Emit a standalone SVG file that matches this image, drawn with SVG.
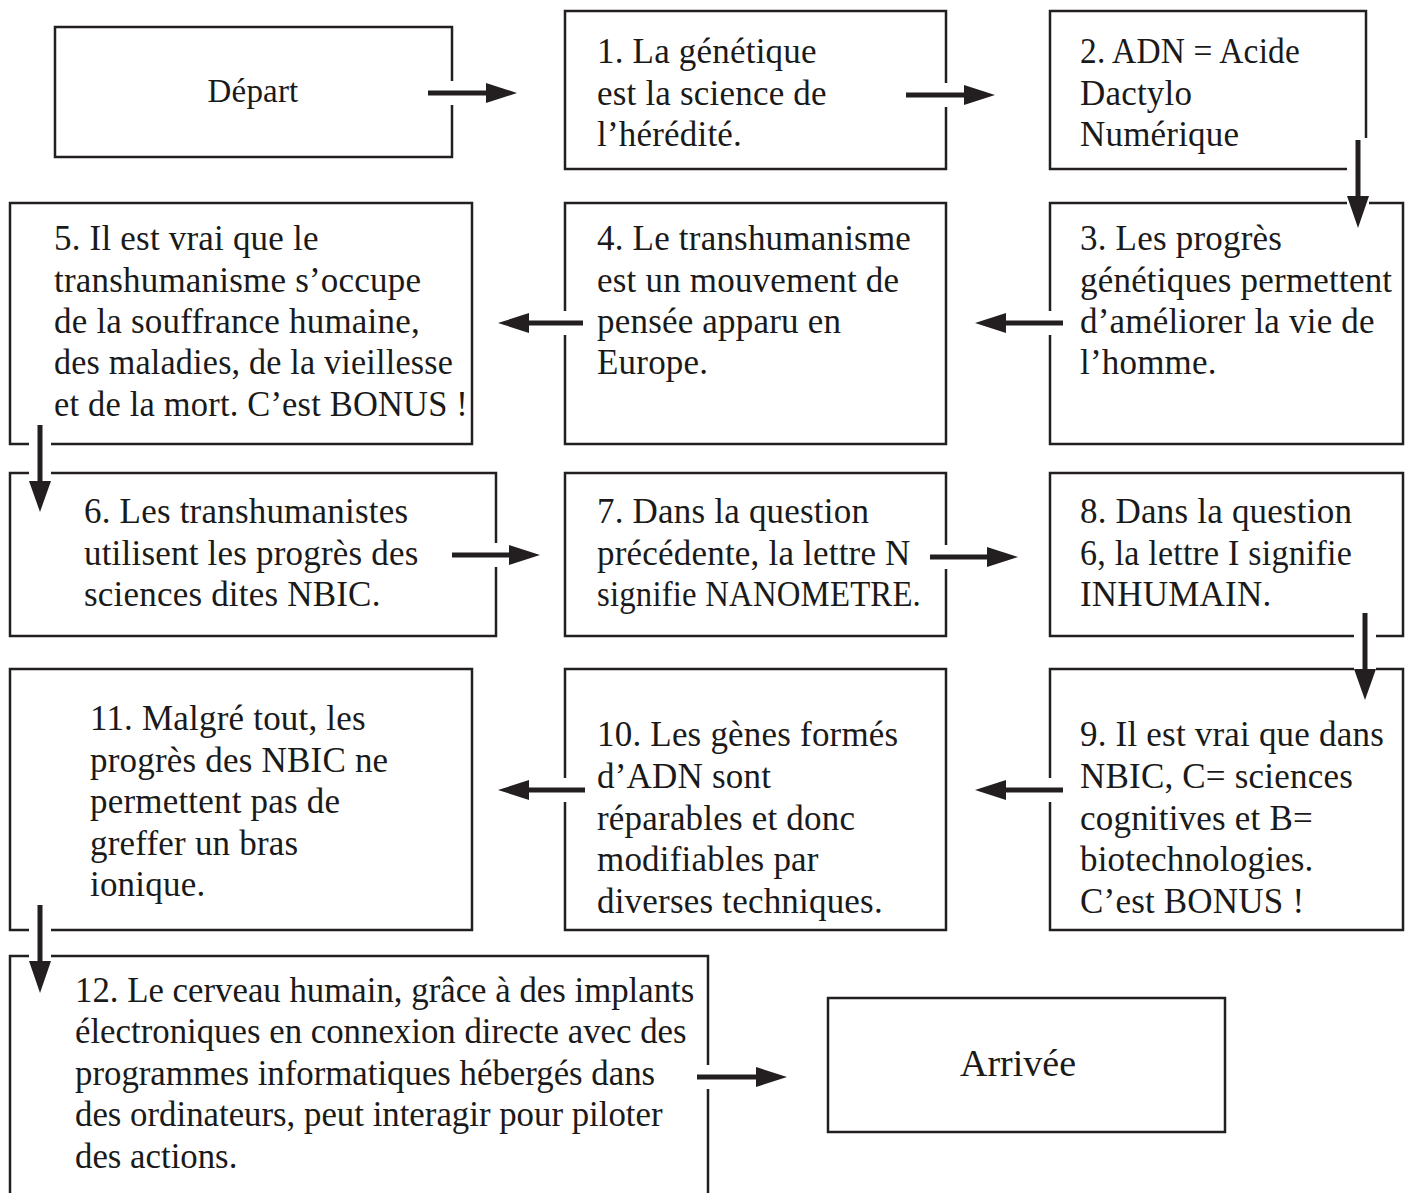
<svg xmlns="http://www.w3.org/2000/svg" width="1407" height="1193" viewBox="0 0 1407 1193">
<style>
.box{fill:#fff;stroke:#231f20;stroke-width:2.5}
.t{font-family:"Liberation Serif","Times New Roman",serif;font-size:35px;letter-spacing:0.2px;fill:#1a1a1a}
.t12{font-family:"Liberation Serif","Times New Roman",serif;font-size:34.8px;fill:#1a1a1a}
.halo{fill:#fff}
.shaft{stroke:#231f20;stroke-width:5}
.head{fill:#231f20}
</style>
<rect width="1407" height="1193" fill="#fff"/>
<g id="depart"><rect class="box" x="55" y="27" width="397" height="130"/><text class="t" x="253" y="102" text-anchor="middle" style="font-size:33px">Départ</text></g>
<g id="q1"><rect class="box" x="565" y="11" width="381" height="158"/><text class="t" x="597"><tspan x="597" y="63">1. La génétique</tspan><tspan x="597" y="105">est la science de</tspan><tspan x="597" y="146">l’hérédité.</tspan></text></g>
<g id="q2"><rect class="box" x="1050" y="11" width="316" height="158"/><text class="t"><tspan x="1080" y="63" textLength="220" lengthAdjust="spacingAndGlyphs">2. ADN = Acide</tspan><tspan x="1080" y="105">Dactylo</tspan><tspan x="1080" y="146">Numérique</tspan></text></g>
<g id="q5"><rect class="box" x="10" y="203" width="462" height="241"/><text class="t"><tspan x="54" y="250">5. Il est vrai que le</tspan><tspan x="54" y="292">transhumanisme s’occupe</tspan><tspan x="54" y="333">de la souffrance humaine,</tspan><tspan x="54" y="374" textLength="399" lengthAdjust="spacingAndGlyphs">des maladies, de la vieillesse</tspan><tspan x="54" y="416" textLength="414" lengthAdjust="spacingAndGlyphs">et de la mort. C’est BONUS !</tspan></text></g>
<g id="q4"><rect class="box" x="565" y="203" width="381" height="241"/><text class="t"><tspan x="597" y="250">4. Le transhumanisme</tspan><tspan x="597" y="292">est un mouvement de</tspan><tspan x="597" y="333">pensée apparu en</tspan><tspan x="597" y="374">Europe.</tspan></text></g>
<g id="q3"><rect class="box" x="1050" y="203" width="353" height="241"/><text class="t"><tspan x="1080" y="250">3. Les progrès</tspan><tspan x="1080" y="292">génétiques permettent</tspan><tspan x="1080" y="333">d’améliorer la vie de</tspan><tspan x="1080" y="374">l’homme.</tspan></text></g>
<g id="q6"><rect class="box" x="10" y="473" width="486" height="163"/><text class="t"><tspan x="84" y="523">6. Les transhumanistes</tspan><tspan x="84" y="565">utilisent les progrès des</tspan><tspan x="84" y="606">sciences dites NBIC.</tspan></text></g>
<g id="q7"><rect class="box" x="565" y="473" width="381" height="163"/><text class="t"><tspan x="597" y="523">7. Dans la question</tspan><tspan x="597" y="565">précédente, la lettre N</tspan><tspan x="597" y="606" textLength="324" lengthAdjust="spacingAndGlyphs">signifie NANOMETRE.</tspan></text></g>
<g id="q8"><rect class="box" x="1050" y="473" width="353" height="163"/><text class="t"><tspan x="1080" y="523">8. Dans la question</tspan><tspan x="1080" y="565" textLength="272" lengthAdjust="spacingAndGlyphs">6, la lettre I signifie</tspan><tspan x="1080" y="606">INHUMAIN.</tspan></text></g>
<g id="q11"><rect class="box" x="10" y="669" width="462" height="261"/><text class="t"><tspan x="90" y="730">11. Malgré tout, les</tspan><tspan x="90" y="772">progrès des NBIC ne</tspan><tspan x="90" y="813">permettent pas de</tspan><tspan x="90" y="855">greffer un bras</tspan><tspan x="90" y="896">ionique.</tspan></text></g>
<g id="q10"><rect class="box" x="565" y="669" width="381" height="261"/><text class="t"><tspan x="597" y="746">10. Les gènes formés</tspan><tspan x="597" y="788">d’ADN sont</tspan><tspan x="597" y="830">réparables et donc</tspan><tspan x="597" y="871">modifiables par</tspan><tspan x="597" y="913">diverses techniques.</tspan></text></g>
<g id="q9"><rect class="box" x="1050" y="669" width="353" height="261"/><text class="t"><tspan x="1080" y="746">9. Il est vrai que dans</tspan><tspan x="1080" y="788">NBIC, C= sciences</tspan><tspan x="1080" y="830">cognitives et B=</tspan><tspan x="1080" y="871">biotechnologies.</tspan><tspan x="1080" y="913">C’est BONUS !</tspan></text></g>
<g id="q12"><rect class="box" x="10" y="956" width="698" height="260"/><text class="t12"><tspan x="75" y="1002">12. Le cerveau humain, grâce à des implants</tspan><tspan x="75" y="1043">électroniques en connexion directe avec des</tspan><tspan x="75" y="1085">programmes informatiques hébergés dans</tspan><tspan x="75" y="1126">des ordinateurs, peut interagir pour piloter</tspan><tspan x="75" y="1168">des actions.</tspan></text></g>
<g id="arrivee"><rect class="box" x="828" y="998" width="397" height="134"/><text class="t" x="1018" y="1076" text-anchor="middle" style="font-size:38px;letter-spacing:0">Arrivée</text></g>
<g id="connectors">
<g><rect class="halo" x="426" y="81" width="93" height="24"/><line class="shaft" x1="428" y1="93" x2="490" y2="93"/><polygon class="head" points="486,83 517,93 486,103"/></g>
<g><rect class="halo" x="904" y="83" width="93" height="24"/><line class="shaft" x1="906" y1="95" x2="968" y2="95"/><polygon class="head" points="964,85 995,95 964,105"/></g>
<g><rect class="halo" x="1347" y="138" width="22" height="92"/><line class="shaft" x1="1358" y1="140" x2="1358" y2="200"/><polygon class="head" points="1347,196 1358,228 1369,196"/></g>
<g><rect class="halo" x="973" y="311" width="92" height="24"/><line class="shaft" x1="1063" y1="323" x2="1002" y2="323"/><polygon class="head" points="1006,313 975,323 1006,333"/></g>
<g><rect class="halo" x="496" y="311" width="89" height="24"/><line class="shaft" x1="583" y1="323" x2="525" y2="323"/><polygon class="head" points="529,313 498,323 529,333"/></g>
<g><rect class="halo" x="29" y="423" width="22" height="91"/><line class="shaft" x1="40" y1="425" x2="40" y2="485"/><polygon class="head" points="29,481 40,512 51,481"/></g>
<g><rect class="halo" x="450" y="543" width="92" height="24"/><line class="shaft" x1="452" y1="555" x2="513" y2="555"/><polygon class="head" points="509,545 540,555 509,565"/></g>
<g><rect class="halo" x="928" y="545" width="92" height="24"/><line class="shaft" x1="930" y1="557" x2="991" y2="557"/><polygon class="head" points="987,547 1018,557 987,567"/></g>
<g><rect class="halo" x="1354" y="611" width="22" height="91"/><line class="shaft" x1="1365" y1="613" x2="1365" y2="673"/><polygon class="head" points="1354,669 1365,700 1376,669"/></g>
<g><rect class="halo" x="973" y="778" width="92" height="24"/><line class="shaft" x1="1063" y1="790" x2="1002" y2="790"/><polygon class="head" points="1006,780 975,790 1006,800"/></g>
<g><rect class="halo" x="496" y="778" width="91" height="24"/><line class="shaft" x1="585" y1="790" x2="525" y2="790"/><polygon class="head" points="529,780 498,790 529,800"/></g>
<g><rect class="halo" x="29" y="903" width="22" height="92"/><line class="shaft" x1="40" y1="905" x2="40" y2="965"/><polygon class="head" points="29,961 40,993 51,961"/></g>
<g><rect class="halo" x="695" y="1065" width="94" height="24"/><line class="shaft" x1="697" y1="1077" x2="760" y2="1077"/><polygon class="head" points="756,1067 787,1077 756,1087"/></g>
</g>
</svg>
